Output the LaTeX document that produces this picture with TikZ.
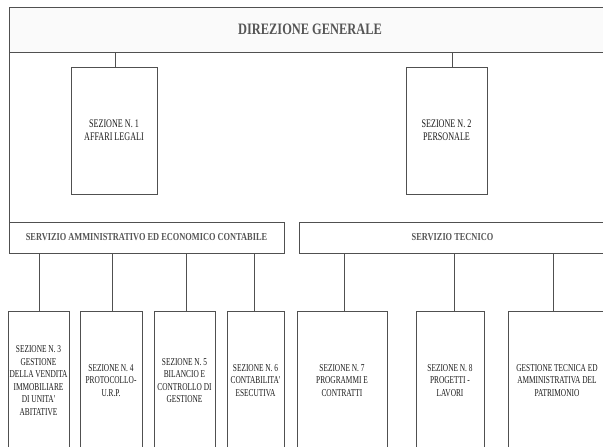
\documentclass[tikz,border=0pt]{standalone}
\usepackage{fontspec}
\setmainfont{Liberation Serif}[FakeStretch=0.78]
\newfontfamily\condfont{Liberation Serif}[FakeStretch=0.7]
\definecolor{linec}{HTML}{505050}
\definecolor{txtc}{HTML}{1A1A1A}
\definecolor{headc}{HTML}{555555}
\begin{document}
\begin{tikzpicture}[x=1pt,y=-1pt,
  box/.style={draw=linec, line width=0.9pt, rectangle, inner sep=1pt, outer sep=0pt, align=center, text=txtc},
  head/.style={box, minimum height=31pt, font=\fontsize{10.7}{13}\selectfont\bfseries, text=headc},
  upbox/.style={box, minimum height=127pt, font=\condfont\fontsize{11.6}{13}\selectfont},
  lowbox/.style={box, minimum height=139pt, font=\condfont\fontsize{10.5}{12.5}\selectfont},
  conn/.style={draw=linec, line width=0.8pt}]
\useasboundingbox (0,0) rectangle (603,447);
\node[box, minimum width=602pt, minimum height=45pt, fill=gray!4,
      font=\fontsize{15.9}{18}\selectfont\bfseries, text=headc] (dg) at (310,29.5) {DIREZIONE GENERALE};
\node[upbox, minimum width=86pt] (s1) at (114,130.5) {SEZIONE N. 1\\AFFARI LEGALI};
\node[upbox, minimum width=81pt] (s2) at (446.5,130.5) {SEZIONE N. 2\\PERSONALE};
\node[head, minimum width=275pt] (sa) at (146.5,237.5) {SERVIZIO AMMINISTRATIVO ED ECONOMICO CONTABILE};
\node[head, minimum width=307pt] (st) at (452.5,237.5) {SERVIZIO TECNICO};
\node[lowbox, minimum width=61pt] (s3) at (38.5,380.5) {SEZIONE N. 3\\GESTIONE\\DELLA VENDITA\\IMMOBILIARE\\DI UNITA'\\ABITATIVE};
\node[lowbox, minimum width=62pt] (s4) at (111,380.5) {SEZIONE N. 4\\PROTOCOLLO-\\U.R.P.};
\node[lowbox, minimum width=61pt] (s5) at (184.5,380.5) {SEZIONE N. 5\\BILANCIO E\\CONTROLLO DI\\GESTIONE};
\node[lowbox, minimum width=57pt] (s6) at (255.5,380.5) {SEZIONE N. 6\\CONTABILITA'\\ESECUTIVA};
\node[lowbox, minimum width=90pt] (s7) at (342,380.5) {SEZIONE N. 7\\PROGRAMMI E\\CONTRATTI};
\node[lowbox, minimum width=68pt] (s8) at (450,380.5) {SEZIONE N. 8\\PROGETTI -\\LAVORI};
\node[lowbox, minimum width=98pt] (s9) at (557,380.5) {GESTIONE TECNICA ED\\AMMINISTRATIVA DEL\\PATRIMONIO};
% frame line on the left
\draw[conn] (dg.north west) -- (sa.north west);
% connectors from direzione
\draw[conn] ([xshift=1pt]s1.north) -- ([xshift=1pt]s1.north |- dg.south);
\draw[conn] ([xshift=5.5pt]s2.north) -- ([xshift=5.5pt]s2.north |- dg.south);
% connectors from servizio amministrativo
\draw[conn] ([xshift=0.5pt]s3.north) -- ([xshift=0.5pt]s3.north |- sa.south);
\draw[conn] ([xshift=1pt]s4.north) -- ([xshift=1pt]s4.north |- sa.south);
\draw[conn] ([xshift=1.5pt]s5.north) -- ([xshift=1.5pt]s5.north |- sa.south);
\draw[conn] ([xshift=-1.5pt]s6.north) -- ([xshift=-1.5pt]s6.north |- sa.south);
% connectors from servizio tecnico
\draw[conn] ([xshift=2pt]s7.north) -- ([xshift=2pt]s7.north |- st.south);
\draw[conn] ([xshift=4pt]s8.north) -- ([xshift=4pt]s8.north |- st.south);
\draw[conn] ([xshift=-4pt]s9.north) -- ([xshift=-4pt]s9.north |- st.south);
\end{tikzpicture}
\end{document}
